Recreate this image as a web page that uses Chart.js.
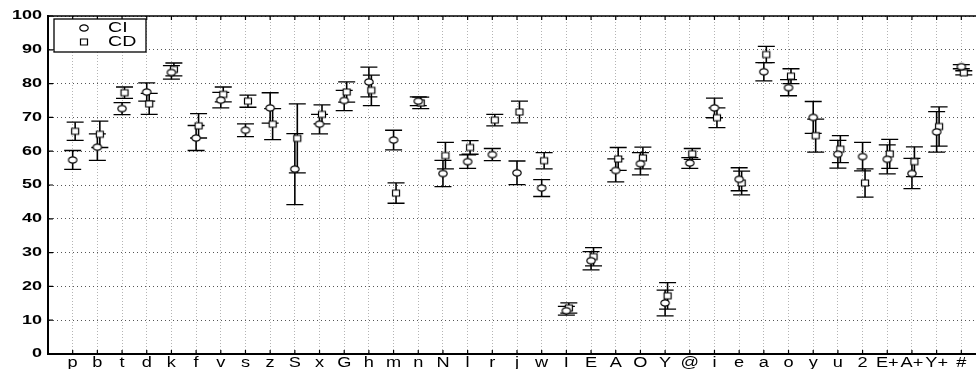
<!DOCTYPE html>
<html>
<head>
<meta charset="utf-8">
<script src="https://cdn.jsdelivr.net/npm/chart.js@4.4.1/dist/chart.umd.min.js"></script>
<style>
  html, body { margin: 0; padding: 0; background: #fff; overflow: hidden; width: 976px; height: 369px; }
  #wrap { position: relative; width: 1000px; height: 369px; }
</style>
</head>
<body>
<div id="wrap"><canvas id="errChart" width="1000" height="369"></canvas></div>
<script>
const phones = ['p','b','t','d','k','f','v','s','z','S','x','G','h','m','n','N','l','r','j','w',
                'I','E','A','O','Y','@','i','e','a','o','y','u','2','E+','A+','Y+','#'];

const ciMean = [57.4, 61.2, 72.6, 77.5, 83.3, 63.9, 75.1, 66.2, 72.8, 54.7, 68.0, 75.0, 80.5, 63.3, 74.8, 53.4, 56.9, 59.0, 53.6, 49.1,
                12.8, 27.6, 54.3, 56.3, 15.1, 56.5, 72.8, 51.7, 83.5, 78.8, 70.0, 59.1, 58.4, 57.6, 53.4, 65.7, 85.0];
const ciErr  = [2.8, 3.9, 1.8, 2.7, 2.0, 3.7, 2.3, 1.9, 4.5, 10.5, 2.9, 3.0, 4.4, 2.9, 1.3, 3.9, 2.0, 1.8, 3.5, 2.5,
                1.3, 2.7, 3.4, 3.3, 3.8, 1.6, 2.9, 3.4, 2.7, 2.4, 4.7, 4.1, 4.2, 4.3, 4.5, 6.0, 0.6];

const cdMean = [65.9, 65.0, 77.3, 74.0, 84.2, 67.5, 76.8, 74.8, 68.0, 63.8, 70.9, 77.5, 78.0, 47.6, 74.3, 58.7, 61.1, 69.2, 71.6, 57.2,
                13.6, 28.8, 57.7, 58.0, 17.2, 59.2, 69.9, 50.6, 88.6, 82.2, 64.6, 60.6, 50.6, 59.2, 56.9, 67.3, 83.2];
const cdErr  = [2.7, 3.9, 1.7, 3.1, 1.9, 3.6, 2.2, 1.8, 4.6, 10.2, 2.8, 3.0, 4.5, 3.0, 1.7, 3.9, 2.0, 1.7, 3.2, 2.4,
                1.5, 2.7, 3.4, 3.2, 3.9, 1.6, 2.9, 3.5, 2.4, 2.2, 4.9, 4.0, 4.2, 4.3, 4.4, 5.8, 0.6];

const yTicks = [0, 10, 20, 30, 40, 50, 60, 70, 80, 90, 100];

const FONT = '"Liberation Sans", Arial, sans-serif';

// open markers, slightly wide like the original
function markerCanvas(shape) {
  const c = document.createElement('canvas');
  c.width = 12; c.height = 10;
  const g = c.getContext('2d');
  g.fillStyle = '#fff';
  g.strokeStyle = '#000';
  g.lineWidth = 1.2;
  g.beginPath();
  if (shape === 'circle') g.ellipse(6, 5, 4.2, 3.2, 0, 0, Math.PI * 2);
  else g.rect(2.5, 2, 7, 6);
  g.fill();
  g.stroke();
  return c;
}
const circleMark = markerCanvas('circle');
const squareMark = markerCanvas('square');

function stretchText(ctx, txt, x, y, align, baseline, sx) {
  ctx.save();
  ctx.translate(x, y);
  ctx.scale(sx, 1);
  ctx.textAlign = align;
  ctx.textBaseline = baseline;
  ctx.fillText(txt, 0, 0);
  ctx.restore();
}

const errorBars = {
  id: 'errorBars',
  beforeDatasetsDraw(chart) {
    const {ctx, scales: {x, y}} = chart;
    ctx.save();
    ctx.strokeStyle = '#000';
    chart.data.datasets.forEach(ds => {
      ds.data.forEach((pt, i) => {
        const px = x.getPixelForValue(pt.x);
        const top = y.getPixelForValue(pt.y + ds.errors[i]);
        const bot = y.getPixelForValue(pt.y - ds.errors[i]);
        ctx.lineWidth = 1.6;
        ctx.beginPath();
        ctx.moveTo(px, top);
        ctx.lineTo(px, bot);
        ctx.stroke();
        ctx.lineWidth = 1.3;
        ctx.beginPath();
        ctx.moveTo(px - 8.5, top); ctx.lineTo(px + 8.5, top);
        ctx.moveTo(px - 8.5, bot); ctx.lineTo(px + 8.5, bot);
        ctx.stroke();
      });
    });
    ctx.restore();
  }
};

const frame = {
  id: 'frame',
  afterDraw(chart) {
    const {ctx, chartArea: a, scales: {x, y}} = chart;
    ctx.save();
    ctx.strokeStyle = '#000';
    // top border
    ctx.lineWidth = 1.5;
    ctx.beginPath();
    ctx.moveTo(a.left, a.top);
    ctx.lineTo(a.right, a.top);
    ctx.stroke();
    // inward ticks
    ctx.lineWidth = 1.2;
    ctx.beginPath();
    phones.forEach((p, i) => {
      const px = x.getPixelForValue(i + 1);
      ctx.moveTo(px, a.bottom); ctx.lineTo(px, a.bottom - 4);
      ctx.moveTo(px, a.top); ctx.lineTo(px, a.top + 4);
    });
    yTicks.forEach(v => {
      const py = y.getPixelForValue(v);
      ctx.moveTo(a.left, py); ctx.lineTo(a.left + 5, py);
    });
    ctx.stroke();

    // tick labels
    ctx.fillStyle = '#000';
    ctx.font = 'bold 12px ' + FONT;
    yTicks.forEach(v => {
      stretchText(ctx, String(v), 42, y.getPixelForValue(v), 'right', 'middle', 1.5);
    });
    ctx.font = '14px ' + FONT;
    phones.forEach((p, i) => {
      stretchText(ctx, p, x.getPixelForValue(i + 1), 366.5, 'center', 'alphabetic', 1.3);
    });

    // legend box
    const lx = 54, ly = 19, lw = 92, lh = 33;
    ctx.fillStyle = '#fff';
    ctx.fillRect(lx, ly, lw, lh);
    ctx.lineWidth = 1.3;
    ctx.strokeRect(lx, ly, lw, lh);
    const marks = [circleMark, squareMark];
    chart.data.datasets.forEach((ds, k) => {
      const cy = 28 + k * 14;
      ctx.drawImage(marks[k], 84 - 6, cy - 5);
      ctx.fillStyle = '#000';
      ctx.font = '14px ' + FONT;
      stretchText(ctx, ds.label, 108, cy + 0.5, 'left', 'middle', 1.4);
    });
    ctx.restore();
  }
};

new Chart(document.getElementById('errChart'), {
  type: 'scatter',
  data: {
    datasets: [
      {
        label: 'CI',
        data: phones.map((p, i) => ({x: i + 1, y: ciMean[i]})),
        errors: ciErr,
        pointStyle: circleMark,
        pointRadius: 4,
        showLine: false
      },
      {
        label: 'CD',
        data: phones.map((p, i) => ({x: i + 1.1, y: cdMean[i]})),
        errors: cdErr,
        pointStyle: squareMark,
        pointRadius: 4,
        showLine: false
      }
    ]
  },
  options: {
    responsive: false,
    animation: false,
    layout: {padding: {top: 16, right: 14, left: 0, bottom: 0}},
    plugins: {legend: {display: false}, tooltip: {enabled: false}},
    scales: {
      x: {
        type: 'linear', min: 0, max: 38,
        afterBuildTicks(s) { s.ticks = Array.from({length: 39}, (_, i) => ({value: i})); },
        afterFit(s) { s.height = 15; },
        ticks: {display: false},
        grid: {color: '#b4b4b4', lineWidth: 1, drawTicks: false},
        border: {display: true, color: '#000', width: 2, dash: [1, 2]}
      },
      y: {
        min: 0, max: 100,
        afterBuildTicks(s) { s.ticks = yTicks.map(v => ({value: v})); },
        afterFit(s) { s.width = 48; },
        ticks: {display: false},
        grid: {color: '#555', lineWidth: 1, drawTicks: false},
        border: {display: true, color: '#000', width: 2, dash: [1, 3]}
      }
    }
  },
  plugins: [errorBars, frame]
});
</script>
</body>
</html>
